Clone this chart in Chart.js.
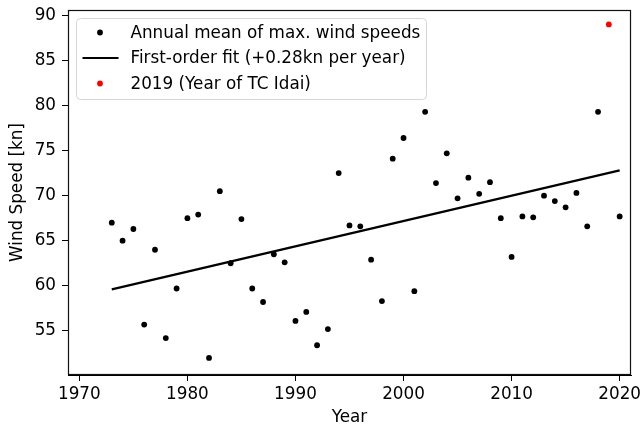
<!DOCTYPE html>
<html lang="en">
<head>
    <meta charset="UTF-8">
    <title>Wind speed</title>
    <script src="https://cdn.jsdelivr.net/npm/chart.js"></script>
    <style>
        html, body { margin: 0; padding: 0; background: #fff; }
        #wrap { width: 643px; height: 428px; }
    </style>
</head>
<body>
    <div id="wrap"><canvas id="grafico" width="643" height="428"></canvas></div>
<script>
    // data
    const years = [1973, 1974, 1975, 1976, 1977, 1978, 1979, 1980, 1981, 1982,
        1983, 1984, 1985, 1986, 1987, 1988, 1989, 1990, 1991, 1992,
        1993, 1994, 1995, 1996, 1997, 1998, 1999, 2000, 2001, 2002,
        2003, 2004, 2005, 2006, 2007, 2008, 2009, 2010, 2011, 2012,
        2013, 2014, 2015, 2016, 2017, 2018, 2020];
    const windSpeeds = [67.0, 65.0, 66.3, 55.7, 64.0, 54.2, 59.7, 67.5, 67.9, 52.0,
        70.5, 62.5, 67.4, 59.7, 58.2, 63.5, 62.6, 56.1, 57.1, 53.4,
        55.2, 72.5, 66.7, 66.6, 62.9, 58.3, 74.1, 76.4, 59.4, 79.3,
        71.4, 74.7, 69.7, 72.0, 70.2, 71.5, 67.5, 63.2, 67.7, 67.6,
        70.0, 69.4, 68.7, 70.3, 66.6, 79.3, 67.7];
    const idaiYear = [2019];
    const idaiSpeed = [89.0];
    const fitYears = [1973, 2020];
    const fitSpeeds = [59.6, 72.8];
    const xTicks = [1970, 1980, 1990, 2000, 2010, 2020];
    const yTicks = [55, 60, 65, 70, 75, 80, 85, 90];

    const fonte = "'DejaVu Sans', sans-serif";
    const tamanho = 16.8;

    function pontos(xs, ys) {
        return xs.map(function (x, i) { return { x: x, y: ys[i] }; });
    }

    // legend in the upper left corner, drawn like the original
    const legendaPlugin = {
        id: 'legenda',
        afterDraw(chart) {
            const ctx = chart.ctx;
            const area = chart.chartArea;
            const x0 = area.left + 8.5, y0 = area.top + 8.5;
            const w = 350, h = 81, r = 4;
            ctx.save();
            ctx.beginPath();
            ctx.roundRect(x0, y0, w, h, r);
            ctx.fillStyle = 'rgba(255,255,255,0.85)';
            ctx.fill();
            ctx.strokeStyle = '#d6d6d6';
            ctx.lineWidth = 1;
            ctx.stroke();
            ctx.font = tamanho + 'px ' + fonte;
            ctx.textBaseline = 'middle';
            chart.data.datasets.forEach(function (ds, i) {
                const cy = y0 + 14 + i * 25.5;
                if (ds.type === 'line') {
                    ctx.beginPath();
                    ctx.moveTo(x0 + 6, cy);
                    ctx.lineTo(x0 + 42, cy);
                    ctx.strokeStyle = ds.borderColor;
                    ctx.lineWidth = ds.borderWidth;
                    ctx.stroke();
                } else {
                    ctx.beginPath();
                    ctx.arc(x0 + 23.5, cy, ds.pointRadius, 0, Math.PI * 2);
                    ctx.fillStyle = ds.backgroundColor;
                    ctx.fill();
                }
                ctx.fillStyle = '#000';
                ctx.fillText(ds.label, x0 + 54, cy + 1);
            });
            ctx.restore();
        }
    };

    // frame around the plot
    const molduraPlugin = {
        id: 'moldura',
        afterDatasetsDraw(chart) {
            const a = chart.chartArea;
            const ctx = chart.ctx;
            ctx.save();
            ctx.strokeStyle = '#111';
            ctx.lineWidth = 1.2;
            ctx.strokeRect(a.left + 0.5, a.top + 0.5, a.right - a.left - 1, a.bottom - a.top - 1);
            ctx.restore();
        }
    };

    const config = {
        data: {
            datasets: [{
                type: 'scatter',
                label: 'Annual mean of max. wind speeds',
                data: pontos(years, windSpeeds),
                backgroundColor: '#000',
                borderWidth: 0,
                pointRadius: 2.9
            },
            {
                type: 'line',
                label: 'First-order fit (+0.28kn per year)',
                data: pontos(fitYears, fitSpeeds),
                borderColor: '#000',
                borderWidth: 2.2,
                pointRadius: 0,
                fill: false
            },
            {
                type: 'scatter',
                label: '2019 (Year of TC Idai)',
                data: pontos(idaiYear, idaiSpeed),
                backgroundColor: '#ff0000',
                borderWidth: 0,
                pointRadius: 2.9
            }]
        },
        options: {
            responsive: false,
            animation: false,
            layout: { padding: { top: 10, right: 12, left: 0, bottom: 0 } },
            plugins: {
                legend: { display: false },
                tooltip: { enabled: false }
            },
            scales: {
                x: {
                    type: 'linear',
                    min: 1968.95,
                    max: 2021.05,
                    afterBuildTicks: function (scale) {
                        scale.ticks = xTicks.map(function (v) { return { value: v }; });
                    },
                    afterFit: function (scale) {
                        scale.height = 53;
                        scale.paddingLeft = 0;
                        scale.paddingRight = 0;
                    },
                    grid: { drawOnChartArea: false, drawTicks: true, tickLength: 6, color: '#000' },
                    border: { display: true, color: '#000' },
                    ticks: { color: '#000', font: { family: fonte, size: tamanho }, padding: 4, maxRotation: 0,
                        callback: function (v) { return String(v); } },
                    title: { display: true, text: 'Year', color: '#000',
                        font: { family: fonte, size: tamanho }, padding: { top: 0, bottom: 0 } }
                },
                y: {
                    type: 'linear',
                    min: 50.1,
                    max: 90.6,
                    afterBuildTicks: function (scale) {
                        scale.ticks = yTicks.map(function (v) { return { value: v }; });
                    },
                    afterFit: function (scale) {
                        scale.width = 68;
                        scale.paddingTop = 0;
                        scale.paddingBottom = 0;
                    },
                    grid: { drawOnChartArea: false, drawTicks: true, tickLength: 6, color: '#000' },
                    border: { display: true, color: '#000' },
                    ticks: { color: '#000', font: { family: fonte, size: tamanho }, padding: 6 },
                    title: { display: true, text: 'Wind Speed [kn]', color: '#000',
                        font: { family: fonte, size: tamanho }, padding: { top: 8, bottom: 0 } }
                }
            }
        },
        plugins: [molduraPlugin, legendaPlugin]
    };

    let grafico = new Chart(document.getElementById('grafico'), config);
</script>
</body>
</html>
